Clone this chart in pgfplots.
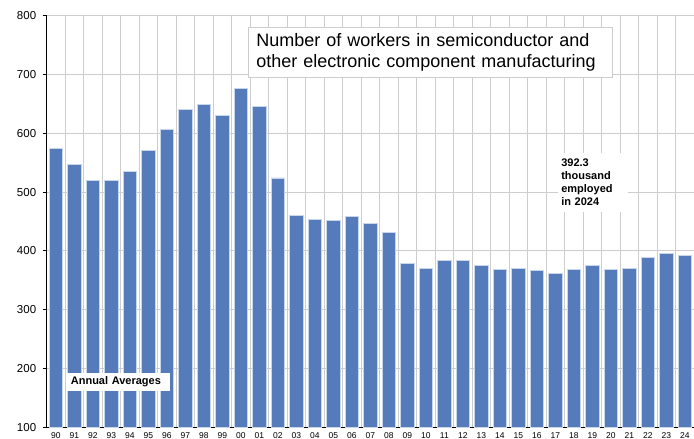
\documentclass[border=0pt]{standalone}
\usepackage{fontspec}
\setmainfont{Liberation Sans}
\usepackage{pgfplots}
\pgfplotsset{compat=1.18}
\definecolor{barblue}{RGB}{86,123,186}
\definecolor{baredge}{RGB}{200,214,236}
\definecolor{gridgray}{RGB}{205,205,205}
\begin{document}
\begin{tikzpicture}
\begin{axis}[
  at={(0,0)}, anchor=south west,
  scale only axis, width=647.3bp, height=411.6bp,
  xmin=-0.5, xmax=34.5, ymin=100, ymax=800,
  ytick={100,200,...,800},
  xtick={0,...,34},
  xticklabels={90,91,92,93,94,95,96,97,98,99,00,01,02,03,04,05,06,07,08,09,10,11,12,13,14,15,16,17,18,19,20,21,22,23,24},
  minor xtick={-0.5,0.5,...,34.5},
  xminorgrids, ymajorgrids,
  grid style={draw=gridgray, line width=1bp},
  minor grid style={draw=gridgray, line width=1bp},
  axis x line*=bottom, axis y line*=left,
  axis line style={black, line width=0.9bp, -},
  xtick style={draw=none},
  ytick style={black, line width=0.9bp},
  major tick length=4bp,
  tick align=outside,
  /pgf/number format/assume math mode=true,
  yticklabel style={font=\fontsize{11.5bp}{13bp}\selectfont, xshift=-3bp},
  xticklabel style={font=\fontsize{8.5bp}{10bp}\selectfont, inner sep=1.2bp},
  ybar, bar width=0.72,
]
\addplot[fill=barblue, draw=baredge, line width=0.8bp] coordinates {
(0,574) (1,547) (2,520) (3,520) (4,535) (5,571) (6,607) (7,640) (8,649) (9,631)
(10,676) (11,645) (12,524) (13,461) (14,454) (15,452) (16,458) (17,447) (18,432) (19,378)
(20,370) (21,384) (22,383) (23,375) (24,368) (25,370) (26,367) (27,362) (28,369) (29,375.5)
(30,369) (31,370) (32,388.5) (33,395) (34,392.3)
};
\node[draw=gridgray, fill=white, line width=1bp, anchor=north west, inner xsep=8bp, inner ysep=0pt,
  minimum height=50bp, text width=348bp, align=left,
  font=\fontsize{18bp}{21bp}\selectfont] at (axis cs:10.38,780.8)
  {Number of workers in semiconductor and\\other electronic component manufacturing};
\node[fill=white, anchor=north west, inner xsep=3bp, inner ysep=6bp, text width=64bp, align=left,
  font=\bfseries\fontsize{11bp}{13bp}\selectfont] at (axis cs:27.15,566.5)
  {392.3\\thousand\\employed\\in 2024};
\node[fill=white, anchor=north west, inner xsep=4bp, inner ysep=0pt, minimum height=18bp, text width=95bp, align=left,
  font=\bfseries\fontsize{11bp}{13bp}\selectfont] at (axis cs:0.58,192.9)
  {Annual Averages};
\end{axis}
\pgfresetboundingbox
\path (-46.7bp,-11.7bp) rectangle (647.3bp,427.3bp);
\end{tikzpicture}
\end{document}
